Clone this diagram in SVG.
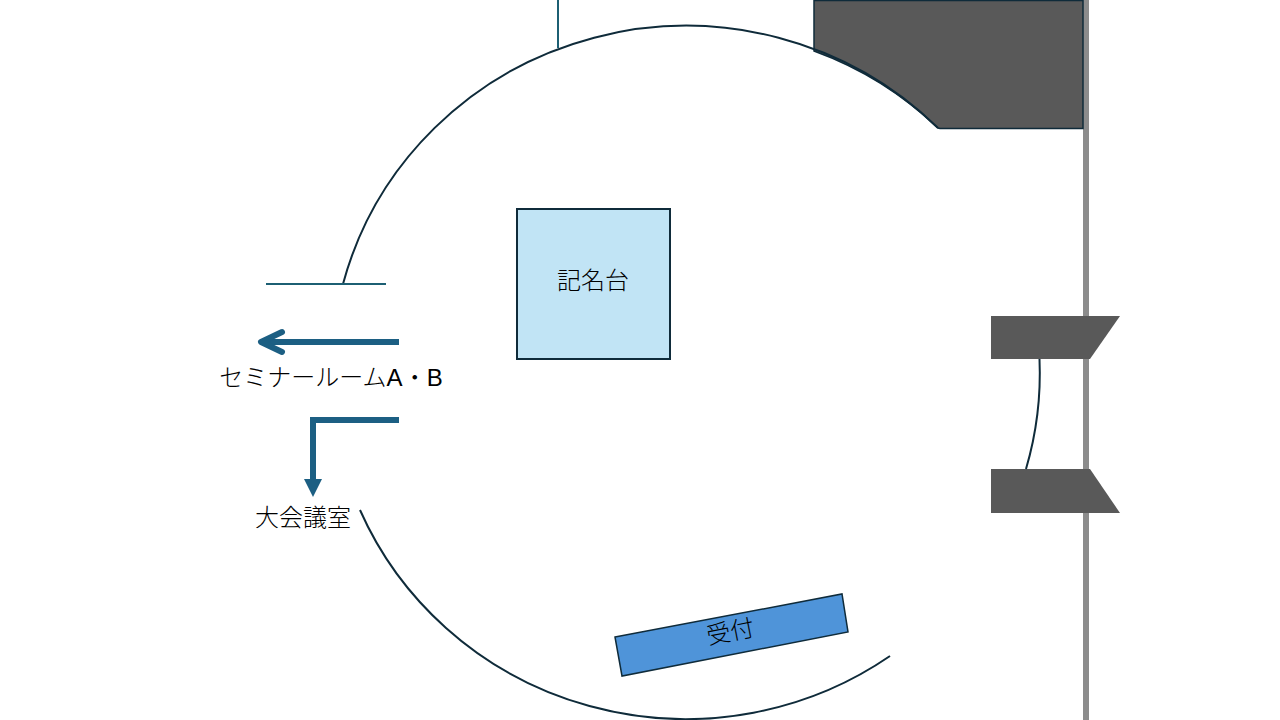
<svg xmlns="http://www.w3.org/2000/svg" width="1280" height="720" viewBox="0 0 1280 720">
<style>
.t{font-family:"Liberation Sans","Noto Sans CJK JP",sans-serif;font-size:24px;font-weight:300;fill:#000;text-anchor:middle}
.wall{fill:none;stroke:#0f2b3a;stroke-width:2}
.dark{fill:#595959}
.arrow{fill:none;stroke:#1c5f83}
</style>
<rect width="1280" height="720" fill="#fff"/>
<g id="outer-wall"><rect x="1083" y="0" width="6" height="720" fill="#8c8c8c"/></g>
<g id="storage"><path d="M814 0.500H1083V128.500H940L938 128A355 346.500 0 0 0 814 51Z" fill="#595959" stroke="#0f2b3a" stroke-width="1.500"/></g>
<g id="door-top"><path class="dark" d="M991 316H1120L1090 359H991Z"/></g>
<g id="door-bottom"><path class="dark" d="M991 469H1090L1120 513H991Z"/></g>
<g id="connectors">
<path class="wall" d="M343 284A355 346.500 0 0 1 938 128"/>
<path class="wall" d="M1039.500 359A355 346.500 0 0 1 1026 469"/>
<path class="wall" d="M890 656A355 346.500 0 0 1 360 510"/>
<path d="M558 0V48" fill="none" stroke="#1c5f73" stroke-width="2"/>
<path d="M266 284H386" fill="none" stroke="#1c5f73" stroke-width="2"/>
<path class="arrow" stroke-width="6" d="M399 342H262"/>
<path class="arrow" stroke-width="6" stroke-linecap="round" stroke-linejoin="round" d="M282 332L261 342L282 352"/>
<path class="arrow" stroke-width="6" d="M399 420H313V480"/>
<path d="M304 479H322L313 497Z" fill="#1c5f83"/>
</g>
<g id="signing-desk"><rect x="517" y="209" width="153" height="150" fill="#c1e4f5" stroke="#0f2b3a" stroke-width="2"/><text class="t" x="593" y="289">記名台</text></g>
<g id="reception"><path d="M615 637L842 594L848 632L622 676Z" fill="#4f94d9" stroke="#0f2b3a" stroke-width="1.500"/><text class="t" transform="translate(732 640) rotate(-11)" x="0" y="0">受付</text></g>
<g id="label-seminar"><text class="t" x="331" y="386">セミナールームA・B</text></g>
<g id="label-hall"><text class="t" x="303" y="526">大会議室</text></g>
</svg>
